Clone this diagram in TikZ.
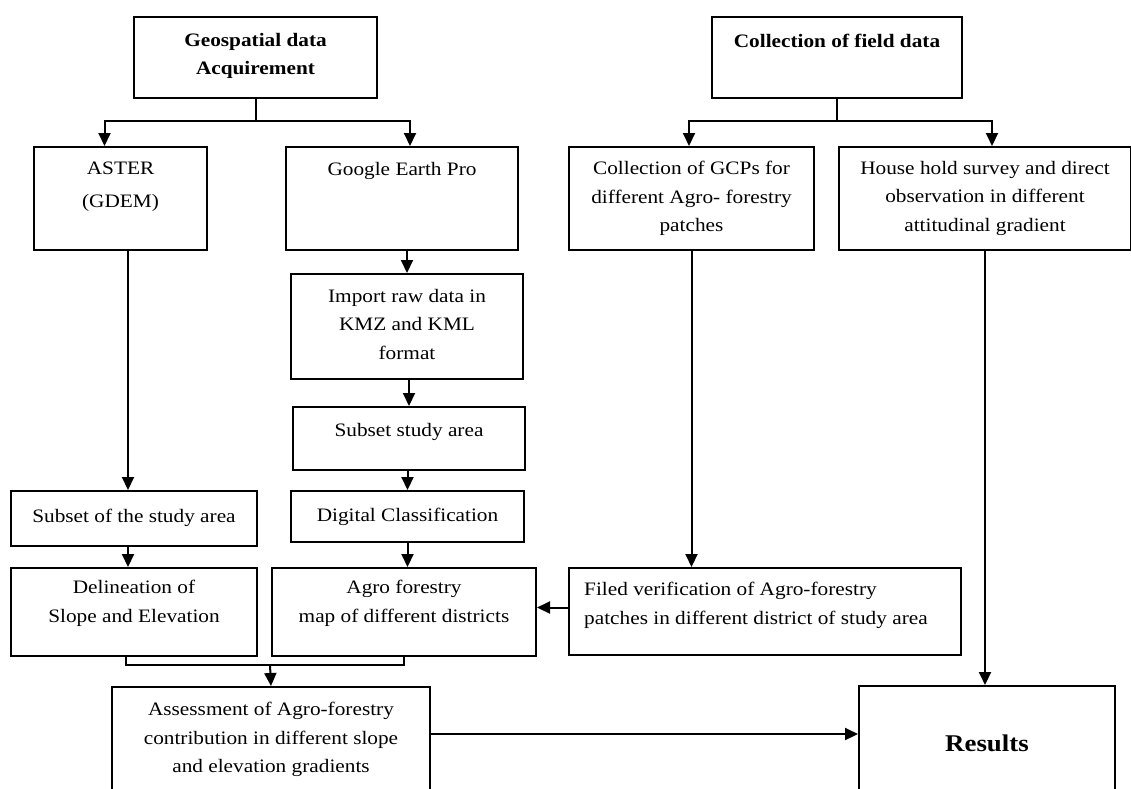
\documentclass[tikz,border=0pt]{standalone}
\usepackage{fontspec}
\setmainfont{Liberation Serif}[FakeStretch=1.12]
\usetikzlibrary{positioning,arrows.meta}

\begin{document}
\begin{tikzpicture}[
  x=1pt, y=-1pt,
  font=\fontsize{19}{28.5}\selectfont,
  box/.style={draw, line width=2pt, inner sep=0pt, anchor=north west},
  sz/.style 2 args={minimum width=#1pt, minimum height=#2pt},
  txt/.style={align=center, inner sep=0pt, anchor=north},
  hd/.style={txt, font=\fontsize{19}{28.5}\selectfont\bfseries},
  ln/.style={line width=2pt},
  ar/.style={line width=2pt, -{Triangle[length=13pt,width=12pt]}},
]
\useasboundingbox (0,0) rectangle (1131,788);
\clip (0,0) rectangle (1131,788);
% --- headings ---
\node[box, sz={243}{81}] (geo) at (133,16) {};
\node[box, sz={250}{81}] (fld) at (711,16) {};
\node[hd, below=17pt of geo.north] (geo-t) {Geospatial data\\Acquirement};
\node[hd, below=18pt of fld.north] (fld-t) {Collection of field data};
% --- sources ---
\node[box, sz={173}{103}] (ast) at (33,146)  {};
\node[box, sz={232}{103}] (goo) at (285,146) {};
\node[box, sz={245}{103}] (gcp) at (568,146) {};
\node[box, sz={292}{103}] (hou) at (838,146) {};
\node[txt, below=16pt of ast.north] (ast-t) {ASTER\\[4.5pt](GDEM)};
\node[txt, below=16pt of goo.north] (goo-t) {Google Earth Pro};
\node[txt, below=15pt of gcp.north] (gcp-t) {Collection of GCPs for\\different Agro- forestry\\patches};
\node[txt, below=15pt of hou.north] (hou-t) {House hold survey and direct\\observation in different\\attitudinal gradient};
% --- Google Earth chain ---
\node[box, sz={232}{105}] (imp) at (290,273) {};
\node[box, sz={232}{63}]  (sst) at (292,406) {};
\node[box, sz={233}{51}]  (dig) at (290,490) {};
\node[txt, below=16pt of imp.north] (imp-t) {Import raw data in\\KMZ and KML\\format};
\node[txt, below=17pt of sst.north] (sst-t) {Subset study area};
\node[txt, below=18pt of dig.north] (dig-t) {Digital Classification};
% --- ASTER chain ---
\node[box, sz={246}{55}] (sub) at (10,490) {};
\node[txt, below=19pt of sub.north] (sub-t) {Subset of the study area};
% --- maps ---
\node[box, sz={246}{88}] (del) at (10,567)  {};
\node[box, sz={264}{88}] (agm) at (271,567) {};
\node[box, sz={392}{87}] (fil) at (568,567) {};
\node[txt, below=13pt of del.north] (del-t) {Delineation of\\Slope and Elevation};
\node[txt, below=13pt of agm.north] (agm-t) {Agro forestry\\map of different districts};
\node[txt, align=left, below right=15pt and 16pt of fil.north west] (fil-t) {Filed verification of Agro-forestry\\patches in different district of study area};
% --- outputs ---
\node[box, sz={318}{134}] (asm) at (111,686) {};
\node[box, sz={256}{135}] (res) at (858,685) {};
\node[txt, below=16pt of asm.north] (asm-t) {Assessment of Agro-forestry\\contribution in different slope\\and elevation gradients};
\node[txt, font=\fontsize{24}{28}\selectfont\bfseries, below=50pt of res.north] (res-t) {Results};
% --- connectors ---
\coordinate (gsp) at ([yshift=-22pt]geo.south);
\coordinate (fsp) at ([yshift=-22pt]fld.south);
\coordinate (jn)  at (270,665);
\draw[ln] (geo.south) -- (gsp);
\draw[ar] (gsp) -| ([xshift=-16pt]ast.north);
\draw[ar] (gsp) -| ([xshift=8pt]goo.north);
\draw[ln] (fld.south) -- (fsp);
\draw[ar] (fsp) -| ([xshift=-2.5pt]gcp.north);
\draw[ar] (fsp) -| ([xshift=7pt]hou.north);
\draw[ar] ([xshift=7.5pt]ast.south) -- ([xshift=-6pt]sub.north);
\draw[ar] (goo.south -| imp.north) -- (imp.north);
\draw[ar] (imp.south -| sst.north) -- (sst.north);
\draw[ar] (sst.south -| dig.north) -- (dig.north);
\draw[ar] ([xshift=-6pt]sub.south) -- ([xshift=-6pt]del.north);
\draw[ar] (dig.south) -- (dig.south |- agm.north);
\draw[ar] (gcp.south) -- (gcp.south |- fil.north);
\draw[ar] (hou.south) -- (hou.south |- res.north);
\draw[ar] ([yshift=4pt]fil.west) -- ([yshift=4pt]fil.west -| agm.east);
\draw[ln] ([xshift=-8pt]del.south) |- (jn) -| (agm.south);
\draw[ar] (jn) -- (asm.north);
\draw[ar] (asm.east |- 0,734) -- (res.west |- 0,734);
\end{tikzpicture}
\end{document}
